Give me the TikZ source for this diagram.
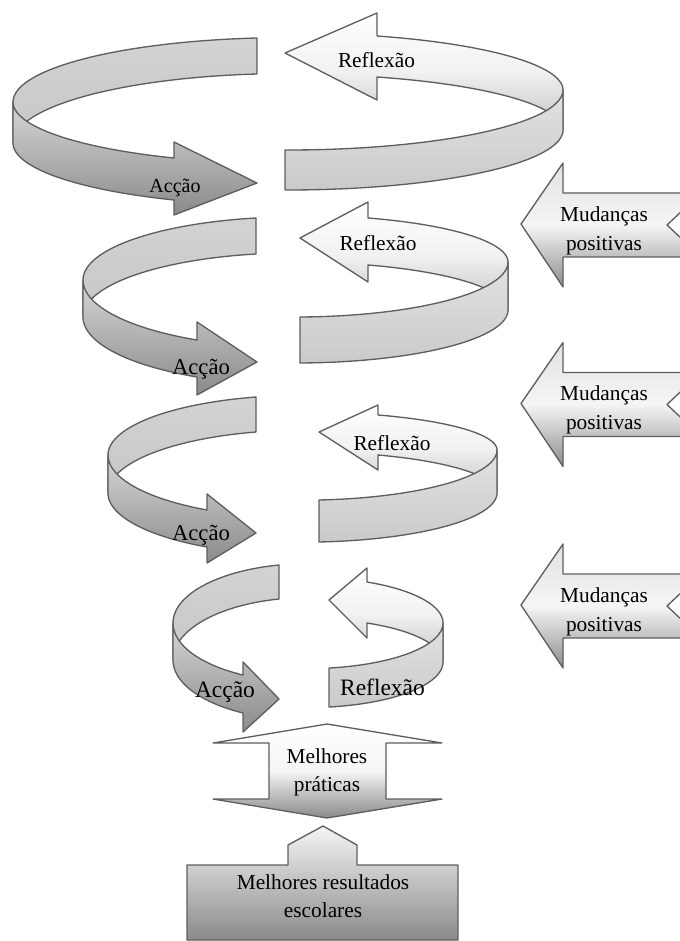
\documentclass[tikz,border=0pt]{standalone}
\usepackage{fontspec}
\setmainfont{Liberation Serif}
\definecolor{edge}{HTML}{5E5E5E}
\definecolor{LbT}{HTML}{D3D3D3}
\definecolor{LbB}{HTML}{C6C6C6}
\definecolor{LfT}{HTML}{D6D6D6}
\definecolor{LfB}{HTML}{8A8A8A}
\definecolor{RbT}{HTML}{FFFFFF}
\definecolor{RbM}{HTML}{F1F1F1}
\definecolor{RbB}{HTML}{C2C2C2}
\definecolor{RfT}{HTML}{E2E2E2}
\definecolor{RfB}{HTML}{CACACA}
\definecolor{MT}{HTML}{E2E2E2}
\definecolor{MM}{HTML}{F5F5F5}
\definecolor{MB}{HTML}{8C8C8C}
\tikzset{
  band/.style={draw=edge, line width=1pt, line join=round, samples=60},
  lbl/.style={anchor=base, inner sep=0pt, text=black},
  fs16/.style={font=\fontsize{16}{19}\selectfont},
  fs15/.style={font=\fontsize{15}{18}\selectfont},
  fs17/.style={font=\fontsize{17}{20}\selectfont},
  fs18/.style={font=\fontsize{17.6}{21}\selectfont}
}
% left (Accao) ribbon: cx,a,xe,yTe,yBe,yLT,yLB,xh,yTh | yBh,hT,hB,tx,ty
\def\leftband(#1,#2,#3,#4,#5,#6,#7,#8,#9){%
  \def\Pcx{#1}\def\Pa{#2}\def\Pxe{#3}\def\PyTe{#4}\def\PyBe{#5}%
  \def\PyLT{#6}\def\PyLB{#7}\def\Pxh{#8}\def\PyTh{#9}\leftbandB}
\def\leftbandB(#1,#2,#3,#4,#5){%
  \def\PyBh{#1}\def\PhT{#2}\def\PhB{#3}\def\Ptx{#4}\def\Pty{#5}%
  \pgfmathsetmacro\tA{acos((\Pxe-\Pcx)/\Pa)}%
  \pgfmathsetmacro\sA{sin(\tA)}%
  \pgfmathsetmacro\bTb{(\PyLT-\PyTe)/\sA}%
  \pgfmathsetmacro\bBb{(\PyLB-\PyBe)/\sA}%
  \pgfmathsetmacro\tH{360-acos((\Pxh-\Pcx)/\Pa)}%
  \pgfmathsetmacro\sH{-sin(\tH)}%
  \pgfmathsetmacro\bTf{(\PyTh-\PyLT)/\sH}%
  \pgfmathsetmacro\bBf{(\PyBh-\PyLB)/\sH}%
  \draw[band, top color=LbT, bottom color=LbB]
    plot[domain=\tA:180] ({\Pcx+\Pa*cos(\x)},{\PyLT-\bTb*sin(\x)})
    -- plot[domain=180:\tA] ({\Pcx+\Pa*cos(\x)},{\PyLB-\bBb*sin(\x)}) -- cycle;
  \draw[band, top color=LfT, bottom color=LfB]
    plot[domain=180:\tH] ({\Pcx+\Pa*cos(\x)},{\PyLT-\bTf*sin(\x)})
    -- (\Pxh,\PhT) -- (\Ptx,\Pty) -- (\Pxh,\PhB)
    -- plot[domain=\tH:180] ({\Pcx+\Pa*cos(\x)},{\PyLB-\bBf*sin(\x)}) -- cycle;
}
% right (Reflexao) ribbon: cx,a,xs,yTs,yBs,yRT,yRB,xh,yTh | yBh,hT,hB,tx,ty
\def\rightband(#1,#2,#3,#4,#5,#6,#7,#8,#9){%
  \def\Pcx{#1}\def\Pa{#2}\def\Pxs{#3}\def\PyTs{#4}\def\PyBs{#5}%
  \def\PyRT{#6}\def\PyRB{#7}\def\Pxh{#8}\def\PyTh{#9}\rightbandB}
\def\rightbandB(#1,#2,#3,#4,#5){%
  \def\PyBh{#1}\def\PhT{#2}\def\PhB{#3}\def\Ptx{#4}\def\Pty{#5}%
  \pgfmathsetmacro\tH{acos((\Pxh-\Pcx)/\Pa)}%
  \pgfmathsetmacro\sH{sin(\tH)}%
  \pgfmathsetmacro\bTb{(\PyRT-\PyTh)/\sH}%
  \pgfmathsetmacro\bBb{(\PyRB-\PyBh)/\sH}%
  \pgfmathsetmacro\tS{360-acos((\Pxs-\Pcx)/\Pa)}%
  \pgfmathsetmacro\sS{-sin(\tS)}%
  \pgfmathsetmacro\bTf{(\PyTs-\PyRT)/\sS}%
  \pgfmathsetmacro\bBf{(\PyBs-\PyRB)/\sS}%
  \draw[band, top color=RbT, bottom color=RbB, middle color=RbM]
    (\Ptx,\Pty) -- (\Pxh,\PhT)
    -- plot[domain=\tH:0] ({\Pcx+\Pa*cos(\x)},{\PyRT-\bTb*sin(\x)})
    -- plot[domain=0:\tH] ({\Pcx+\Pa*cos(\x)},{\PyRB-\bBb*sin(\x)})
    -- (\Pxh,\PhB) -- cycle;
  \draw[band, top color=RfT, bottom color=RfB]
    plot[domain=\tS:360] ({\Pcx+\Pa*cos(\x)},{\PyRT-\bTf*sin(\x)})
    -- plot[domain=360:\tS] ({\Pcx+\Pa*cos(\x)},{\PyRB-\bBf*sin(\x)}) -- cycle;
}
% Mudancas arrow, shaft centre y
\def\mudarrow(#1){%
  \draw[band, top color=MT, bottom color=MB, middle color=MM]
    (521,#1-1) -- (563,#1-62) -- (563,#1-32) -- (701,#1-32) -- (667,#1)
    -- (701,#1+32) -- (563,#1+32) -- (563,#1+62) -- cycle;
}
\begin{document}
\begin{tikzpicture}[x=0.75pt,y=-0.75pt]
\useasboundingbox (0,0) rectangle (680,941);
\begin{scope}
\clip (0,0) rectangle (680,941);
% level 1
\leftband(288,275,257,38,74,102,143,174,158)(200,142,215,257,183)
\rightband(288,275,285,150,190,90,130,377,36)(77,13,100,285,53)
% level 2
\leftband(295.5,212.5,256,218,254,280,317,197,340)(377,322,395,257,362)
\rightband(295.5,212.5,300,317,363,262,310,368,218)(265,202,282,300,238)
% level 3
\leftband(302.5,194.5,256,397,432,455,493,207,510)(547,494,563,256,533)
\rightband(302.5,194.5,319,500,542,450,493,378,415)(455,405,470,319,432)
% level 4
\leftband(308,135,279,565,599,623,660,243,675)(713,662,732,279,699)
\rightband(308,135,329,668,707,623,662,367,582)(623,568,638,329,600)
% Mudancas positivas arrows
\mudarrow(225)
\mudarrow(404.5)
\mudarrow(606)
% Melhores praticas double arrow
\draw[band, top color=white, bottom color=LfB, middle color=MM]
  (327,724) -- (213,743) -- (269,743) -- (269,799) -- (213,799) -- (327,818)
  -- (442,799) -- (386,799) -- (386,743) -- (442,743) -- cycle;
% Melhores resultados box
\draw[band, top color=MM, bottom color=LfB]
  (323,826) -- (288,845) -- (288,865) -- (187,865) -- (187,940) -- (458,940)
  -- (458,865) -- (357,865) -- (357,845) -- cycle;
\end{scope}
% labels
\node[lbl,fs16] (refl1) at (376.5,68) {Reflexão};
\node[lbl,fs15] (acc1) at (175,193) {Acção};
\node[lbl,fs16] (refl2) at (378,250) {Reflexão};
\node[lbl,fs17] (acc2) at (201,374) {Acção};
\node[lbl,fs16] (refl3) at (392,450) {Reflexão};
\node[lbl,fs17] (acc3) at (201,540) {Acção};
\node[lbl,fs18] (refl4) at (382.5,695) {Reflexão};
\node[lbl,fs18] (acc4) at (225,697) {Acção};
\node[lbl,fs16] (mud1a) at (604,221) {Mudanças};
\node[lbl,fs16] (mud1b) at (604,250) {positivas};
\node[lbl,fs16] (mud2a) at (604,400.5) {Mudanças};
\node[lbl,fs16] (mud2b) at (604,429.5) {positivas};
\node[lbl,fs16] (mud3a) at (604,602) {Mudanças};
\node[lbl,fs16] (mud3b) at (604,631) {positivas};
\node[lbl,fs16] (mp1) at (327,763) {Melhores};
\node[lbl,fs16] (mp2) at (327,791) {práticas};
\node[lbl,fs16] (mr1) at (323,889) {Melhores resultados};
\node[lbl,fs16] (mr2) at (323,917) {escolares};
\end{tikzpicture}
\end{document}
